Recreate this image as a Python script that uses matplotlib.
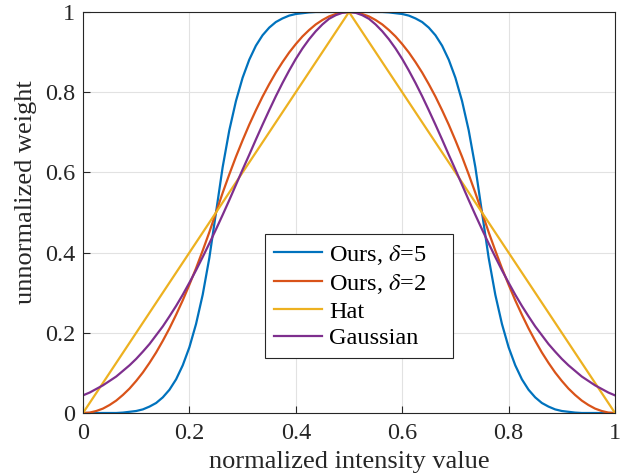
import numpy as np
import matplotlib
matplotlib.use("Agg")
import matplotlib.pyplot as plt

plt.rcParams["font.family"] = ["Liberation Serif", "DejaVu Serif"]
plt.rcParams["mathtext.fontset"] = "stix"

x = np.linspace(0, 1, 81)

ours_d5 = [0.000, 0.000, 0.000, 0.000, 0.000, 0.000, 0.001, 0.003, 0.005, 0.009,
           0.016, 0.025, 0.039, 0.058, 0.084, 0.119, 0.164, 0.222, 0.295, 0.387,
           0.500, 0.613, 0.705, 0.778, 0.836, 0.881, 0.916, 0.942, 0.961, 0.975,
           0.984, 0.991, 0.995, 0.997, 0.999, 1.000, 1.000, 1.000, 1.000, 1.000,
           1.000,
           1.000, 1.000, 1.000, 1.000, 1.000, 0.999, 0.997, 0.995, 0.991, 0.984,
           0.975, 0.961, 0.942, 0.916, 0.881, 0.836, 0.778, 0.705, 0.613, 0.500,
           0.387, 0.295, 0.222, 0.164, 0.119, 0.084, 0.058, 0.039, 0.025, 0.016,
           0.009, 0.005, 0.003, 0.001, 0.000, 0.000, 0.000, 0.000, 0.000, 0.000]

ours_d2 = [0.000, 0.001, 0.005, 0.011, 0.020, 0.031, 0.045, 0.061, 0.080, 0.101,
           0.125, 0.151, 0.180, 0.211, 0.245, 0.281, 0.320, 0.361, 0.405, 0.451,
           0.500, 0.549, 0.595, 0.639, 0.680, 0.719, 0.755, 0.789, 0.820, 0.849,
           0.875, 0.899, 0.920, 0.939, 0.955, 0.969, 0.980, 0.989, 0.995, 0.999,
           1.000,
           0.999, 0.995, 0.989, 0.980, 0.969, 0.955, 0.939, 0.920, 0.899, 0.875,
           0.849, 0.820, 0.789, 0.755, 0.719, 0.680, 0.639, 0.595, 0.549, 0.500,
           0.451, 0.405, 0.361, 0.320, 0.281, 0.245, 0.211, 0.180, 0.151, 0.125,
           0.101, 0.080, 0.061, 0.045, 0.031, 0.020, 0.011, 0.005, 0.001, 0.000]

gaussian = [0.044, 0.051, 0.060, 0.069, 0.080, 0.091, 0.105, 0.119, 0.135, 0.153,
            0.172, 0.194, 0.216, 0.241, 0.267, 0.295, 0.325, 0.356, 0.389, 0.423,
            0.458, 0.494, 0.531, 0.569, 0.607, 0.644, 0.682, 0.719, 0.755, 0.790,
            0.823, 0.854, 0.883, 0.909, 0.932, 0.952, 0.969, 0.983, 0.992, 0.998,
            1.000,
            0.998, 0.992, 0.983, 0.969, 0.952, 0.932, 0.909, 0.883, 0.854, 0.823,
            0.790, 0.755, 0.719, 0.682, 0.644, 0.607, 0.569, 0.531, 0.494, 0.458,
            0.423, 0.389, 0.356, 0.325, 0.295, 0.267, 0.241, 0.216, 0.194, 0.172,
            0.153, 0.135, 0.119, 0.105, 0.091, 0.080, 0.069, 0.060, 0.051, 0.044]

hat_x = [0.0, 0.5, 1.0]
hat_y = [0.0, 1.0, 0.0]

ticks = [0, 0.2, 0.4, 0.6, 0.8, 1]
tick_labels = ["0", "0.2", "0.4", "0.6", "0.8", "1"]

# --- Plot ---
W, H = 631, 476
fig = plt.figure(figsize=(W / 100, H / 100), dpi=100)
ax = fig.add_axes([83 / W, 1 - 413 / H, (615 - 83) / W, (413 - 12) / H])

ax.plot(x, ours_d5, color="#0072BD", lw=1.6, label=r"Ours, $\delta$=5")
ax.plot(x, ours_d2, color="#D95319", lw=1.6, label=r"Ours, $\delta$=2")
ax.plot(hat_x, hat_y, color="#EDB120", lw=1.6, label="Hat")
ax.plot(x, gaussian, color="#7E2F8E", lw=1.6, label="Gaussian")

ax.set_xlim(0, 1); ax.set_ylim(0, 1)
ax.set_xticks(ticks); ax.set_xticklabels(tick_labels)
ax.set_yticks(ticks); ax.set_yticklabels(tick_labels)
ax.tick_params(direction="in", length=5, width=0.8, colors="#262626",
               labelsize=17.5, top=False, right=False)
ax.tick_params(axis="y", pad=5.5)
ax.tick_params(axis="x", pad=7)
ax.grid(True, color="#e2e2e2", lw=0.8)
ax.set_axisbelow(True)
for s in ax.spines.values():
    s.set_color("#262626"); s.set_linewidth(0.8)

ax.set_xlabel("normalized intensity value", fontsize=19, color="#262626", labelpad=5.5)
ax.set_ylabel("unnormalized weight", fontsize=19, color="#262626")
ax.yaxis.set_label_coords((37 - 83) / 532, (413 - 192) / 401)

# legend box: x 265..453 px, y 237..358 px (MATLAB leaves space on the right)
leg = ax.legend(loc="lower left", mode="expand",
                bbox_to_anchor=((265 - 83) / 532, (413 - 358) / 401, 188 / 532, 121 / 401),
                fontsize=17.5, fancybox=False, framealpha=1, edgecolor="#262626",
                handlelength=2.0, handletextpad=0.3, borderpad=0.35,
                labelspacing=0.2, borderaxespad=0)
leg.get_frame().set_linewidth(0.8)

plt.savefig("out.png", dpi=100)
